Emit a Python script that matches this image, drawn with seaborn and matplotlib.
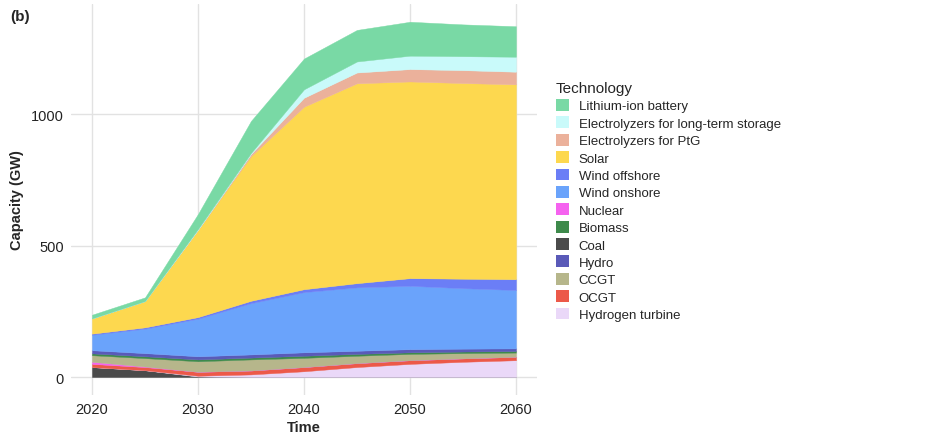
import numpy as np
import pandas as pd
import matplotlib
matplotlib.use("Agg")
import matplotlib.pyplot as plt
import seaborn as sns
from matplotlib.patches import Patch

# capacity (GW) per technology
years = [2020, 2025, 2030, 2035, 2040, 2045, 2050, 2055, 2060]

coal = [38, 26, 2, 0, 0, 0, 0, 0, 0]
hydrogen_turbine = [0, 0, 3, 10, 22, 38, 50, 58, 64]
ocgt = [12, 12, 15, 15, 16, 15, 14, 13, 13]
nuclear = [8, 2, 0, 0, 0, 0, 0, 0, 0]
ccgt = [25, 32, 40, 42, 35, 28, 24, 20, 16]
biomass = [7, 7, 7, 7, 8, 7, 6, 6, 6]
hydro = [12, 12, 12, 12, 13, 12, 12, 11, 10]
wind_onshore = [59, 93, 143, 195, 229, 241, 241, 230, 222]
wind_offshore = [4, 5, 6, 9, 11, 16, 29, 36, 41]
solar = [58, 100, 332, 550, 694, 760, 748, 744, 741]
electrolyzers_ptg = [0, 0, 0, 8, 34, 41, 47, 49, 48]
electrolyzers_lts = [0, 0, 3, 4, 32, 42, 51, 53, 57]
li_ion = [14, 14, 57, 122, 117, 120, 129, 121, 116]

# legend order (top of legend = top of stack)
legend_order = ['Lithium-ion battery', 'Electrolyzers for long-term storage',
                'Electrolyzers for PtG', 'Solar', 'Wind offshore', 'Wind onshore',
                'Nuclear', 'Biomass', 'Coal', 'Hydro', 'CCGT', 'OCGT',
                'Hydrogen turbine']

colors = {'Lithium-ion battery': '#79d9a5',
          'Electrolyzers for long-term storage': '#c9fafa',
          'Electrolyzers for PtG': '#ebb19b',
          'Solar': '#fdd84f',
          'Wind offshore': '#6b7ef6',
          'Wind onshore': '#6aa3fb',
          'Nuclear': '#f562ef',
          'Biomass': '#3e8a4b',
          'Coal': '#4b4b4b',
          'Hydro': '#5a5ab8',
          'CCGT': '#b6b68b',
          'OCGT': '#ec5949',
          'Hydrogen turbine': '#ead8f8'}

data = pd.DataFrame({'Coal': coal, 'Hydrogen turbine': hydrogen_turbine,
                     'OCGT': ocgt, 'Nuclear': nuclear, 'CCGT': ccgt,
                     'Biomass': biomass, 'Hydro': hydro,
                     'Wind onshore': wind_onshore, 'Wind offshore': wind_offshore,
                     'Solar': solar, 'Electrolyzers for PtG': electrolyzers_ptg,
                     'Electrolyzers for long-term storage': electrolyzers_lts,
                     'Lithium-ion battery': li_ion}, index=years)

sns.set_theme(style="whitegrid")
plt.rcParams['font.family'] = ['Liberation Sans', 'DejaVu Sans']

fig = plt.figure(figsize=(9.29, 4.39), dpi=100)
ax = fig.add_axes([0.0762, 0.0984, 0.502, 0.8902])
ax.set_facecolor('white')

ax.stackplot(data.index, *[data[c].values for c in data.columns],
             colors=[colors[c] for c in data.columns],
             edgecolor='face', linewidth=0.3, zorder=2)

ax.set_xlim(2018, 2062)
ax.set_ylim(-67.5, 1418.5)
ax.set_xticks([2020, 2030, 2040, 2050, 2060])
ax.set_yticks([0, 500, 1000])
ax.grid(True, color='#e2e2e2', linewidth=1.0, zorder=0)
ax.set_axisbelow(True)
sns.despine(ax=ax, left=True, bottom=True)
ax.tick_params(length=0, labelsize=10.5, colors='#222222', pad=5)

ax.set_xlabel('Time', fontsize=10.5, fontweight='bold', labelpad=3)
ax.set_ylabel('Capacity (GW)', fontsize=10.5, fontweight='bold', labelpad=5)

fig.text(0.011, 0.961, '(b)', fontsize=11, fontweight='bold', va='center')

handles = [Patch(facecolor=colors[t], edgecolor='none') for t in legend_order]
leg = fig.legend(handles, legend_order, title='Technology', loc='upper left',
                 bbox_to_anchor=(0.598, 0.813), frameon=False, fontsize=9.5,
                 title_fontsize=11, handlelength=1.0, handleheight=1.0,
                 handletextpad=0.75, labelspacing=0.3, borderpad=0,
                 borderaxespad=0, alignment='left')

fig.savefig('out.png', dpi=100, facecolor='white')
